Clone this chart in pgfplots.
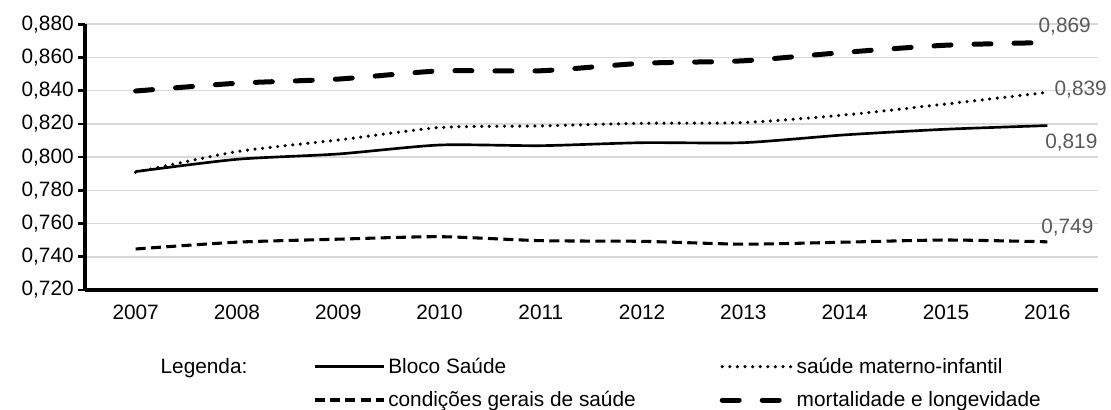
\documentclass[border=0pt]{standalone}
\usepackage{pgfplots}
\pgfplotsset{compat=1.18}
\usepackage{fontspec}
\setmainfont{Liberation Sans}
\definecolor{gridgray}{RGB}{217,217,217}
\definecolor{labelgray}{RGB}{89,89,89}

\begin{document}
\begin{tikzpicture}[font=\fontsize{15.6}{18}\selectfont]
  \begin{axis}[
    scale only axis,
    width=759.75pt, height=199.3pt,
    xmin=2006.5, xmax=2016.5,
    ymin=0.72, ymax=0.88,
    clip=false,
    axis x line*=bottom, axis y line*=left,
    axis line style={line width=2.5pt},
    xtick={2007,...,2016},
    minor xtick={2006.5,2007.5,...,2016.5},
    xtick style={draw=none},
    minor tick length=6pt,
    minor tick style={line width=2pt, black},
    ytick={0.72,0.74,...,0.881},
    ytick style={line width=2pt, black},
    major tick length=5pt,
    tick align=outside,
    scaled y ticks=false,
    ymajorgrids,
    grid style={gridgray, line width=1.2pt},
    /pgf/number format/assume math mode=true,
    xticklabel style={yshift=-3pt, /pgf/number format/1000 sep={}},
    yticklabel style={/pgf/number format/.cd, fixed, fixed zerofill, precision=3, use comma},
    legend columns=2,
    legend cell align=left,
    legend image code/.code={\draw[#1] (0pt,0pt) -- (52pt,0pt);},
    legend style={draw=none, fill=none, inner sep=0pt,
      at={(axis description cs:0.225,-0.245)}, anchor=north west,
      row sep=8pt,
      /tikz/every even column/.append style={column sep=61pt}},
  ]
    \addplot[black, line width=2pt, smooth, tension=0.4] coordinates {
      (2007,0.7913) (2008,0.7987) (2009,0.8019) (2010,0.8073) (2011,0.8069)
      (2012,0.8087) (2013,0.8087) (2014,0.8134) (2015,0.8168) (2016,0.819)
    };
    \addlegendentry{Bloco Saúde}
    \addplot[black, line width=2.6pt, line cap=round, dash pattern=on 0pt off 5.7pt, smooth, tension=0.4] coordinates {
      (2007,0.7909) (2008,0.8033) (2009,0.8103) (2010,0.8178) (2011,0.8188)
      (2012,0.8204) (2013,0.8208) (2014,0.8254) (2015,0.8320) (2016,0.839)
    };
    \addlegendentry{saúde materno-infantil}
    \addplot[black, line width=2.3pt, dash pattern=on 7.5pt off 4pt, smooth, tension=0.4] coordinates {
      (2007,0.7447) (2008,0.7488) (2009,0.7506) (2010,0.7521) (2011,0.7497)
      (2012,0.7493) (2013,0.7476) (2014,0.7488) (2015,0.7501) (2016,0.749)
    };
    \addlegendentry{condições gerais de saúde}
    \addplot[black, line width=3.75pt, line cap=round, dash pattern=on 12.75pt off 17.25pt, smooth, tension=0.4] coordinates {
      (2007,0.8398) (2008,0.8445) (2009,0.8470) (2010,0.8519) (2011,0.8520)
      (2012,0.8565) (2013,0.8580) (2014,0.8631) (2015,0.8674) (2016,0.869)
    };
    \addlegendentry{mortalidade e longevidade}

    \node[labelgray, xshift=13pt, yshift=12pt] at (axis cs:2016,0.869) {0,869};
    \node[labelgray, xshift=25pt, yshift=2pt] at (axis cs:2016,0.839) {0,839};
    \node[labelgray, xshift=18pt, yshift=-12.75pt] at (axis cs:2016,0.819) {0,819};
    \node[labelgray, xshift=15pt, yshift=11pt] at (axis cs:2016,0.749) {0,749};
    \node[anchor=west] at (axis description cs:0.07,-0.294) {Legenda:};
    \coordinate (O) at (rel axis cs:0,0);
  \end{axis}
  \pgfresetboundingbox
  \path ([shift={(-63.75pt,-90pt)}]O) rectangle ++(833.25pt,307.5pt);
\end{tikzpicture}
\end{document}
